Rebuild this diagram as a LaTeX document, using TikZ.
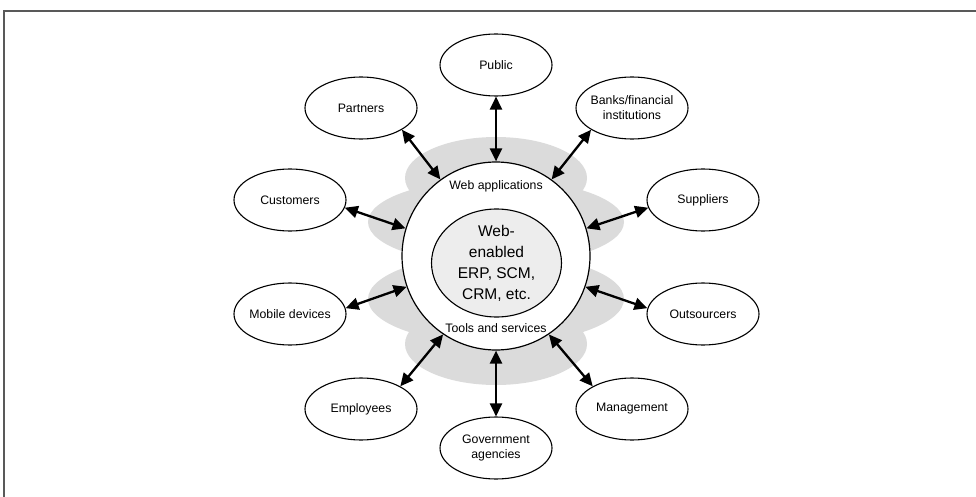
\documentclass[tikz,border=0pt]{standalone}
\usepackage{fontspec}
\setmainfont{Liberation Sans}
\usetikzlibrary{shapes.geometric,arrows.meta}

\begin{document}
\begin{tikzpicture}[x=1pt,y=-1pt,
  party/.style={draw, ellipse, line width=1.1pt, fill=white, minimum width=112pt, minimum height=62pt, inner sep=-4pt, align=center, font=\fontsize{12.3}{15}\selectfont},
  link/.style={{Triangle[length=13pt,width=12pt]}-{Triangle[length=13pt,width=12pt]}, line width=2.3pt},
  lobe/.style={fill=black!14},
  tag/.style={font=\fontsize{12.3}{15}\selectfont}]
\useasboundingbox (0,0) rectangle (976,497);
\draw[line width=1.8pt, black!65] (4,497) -- (4,11) -- (976,11);
% grey cloud behind the hub
\fill[lobe] (496,178) ellipse [x radius=91, y radius=41];
\fill[lobe] (496,222) ellipse [x radius=128, y radius=43];
\fill[lobe] (496,299) ellipse [x radius=128, y radius=45];
\fill[lobe] (496,344) ellipse [x radius=91, y radius=41];
\node[circle, draw, line width=1.2pt, fill=white, minimum size=188pt] (hub) at (496,256) {};
\node[ellipse, draw, line width=1.1pt, fill=black!7, minimum width=130pt, minimum height=108pt, inner sep=-2pt, align=center, font=\fontsize{15.5}{21}\selectfont] (core) at (496.5,263) {Web-\\enabled\\ERP, SCM,\\CRM, etc.};
\node[tag] (webapps) at (496,186) {Web applications};
\node[tag] (tools) at (496,328) {Tools and services};
% outer parties
\node[party] (public) at (496,65) {Public};
\node[party] (partners) at (361,108) {Partners};
\node[party] (banks) at (632,108) {Banks/financial\\institutions};
\node[party] (customers) at (290,200) {Customers};
\node[party] (suppliers) at (703,200) {Suppliers};
\node[party] (mobile) at (290,314) {Mobile devices};
\node[party] (outsourcers) at (703,314) {Outsourcers};
\node[party] (employees) at (361,409) {Employees};
\node[party] (management) at (632,409) {Management};
\node[party] (government) at (496,448) {Government\\agencies};
\draw[link] (public) -- (hub);
\draw[link] (partners.-28) -- (hub.126);
\draw[link] (banks.-152) -- (hub.54);
\draw[link] (customers.-8) -- (hub.163);
\draw[link] (suppliers.-172) -- (hub.17);
\draw[link] (mobile.6) -- (hub.199);
\draw[link] (outsourcers.174) -- (hub.-19);
\draw[link] (employees.30) -- (hub.236);
\draw[link] (management.150) -- (hub.-56);
\draw[link] (government) -- (hub);
\end{tikzpicture}
\end{document}
